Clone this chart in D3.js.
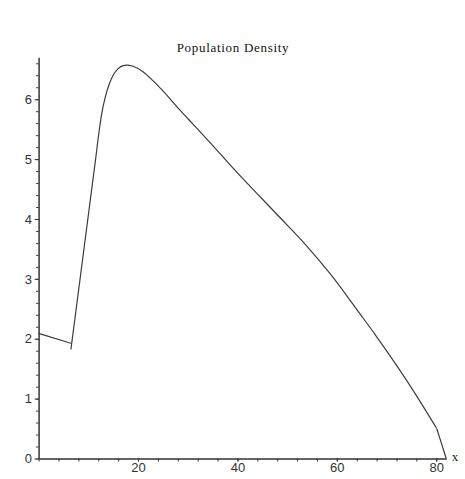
<!DOCTYPE html>
<html>
<head>
<meta charset="utf-8">
<script src="https://cdn.jsdelivr.net/npm/d3@7"></script>
<style>
  html, body { margin: 0; padding: 0; background: #fff; }
  svg { display: block; }
</style>
</head>
<body>
<script>
// ---- data ----
// first (left) piece of the density curve
const xLeft = [0, 6.65];
const yLeft = [2.09, 1.92];
// second (main) piece of the density curve
const xMain = [6.5, 11.5, 12.15, 12.7, 13.4, 14.2, 15, 16, 17, 17.7, 19, 21, 23, 25.1, 28.3, 31.1, 35, 40, 44, 48.6, 53.6, 58.6, 64.7, 67.7, 71.4, 75.4, 80.1];
const yMain = [1.82, 5.02, 5.45, 5.76, 6.03, 6.25, 6.40, 6.51, 6.56, 6.57, 6.55, 6.46, 6.31, 6.13, 5.83, 5.58, 5.23, 4.77, 4.42, 4.02, 3.58, 3.09, 2.41, 2.07, 1.63, 1.13, 0.50];
// last straight piece down to zero
const xTail = [80.1, 82];
const yTail = [0.50, 0.0];
const xTickLabels = [20, 40, 60, 80];
const yTickLabels = [0, 1, 2, 3, 4, 5, 6];
const xMinorTicks = d3.range(0, 81, 4);
const yMinorTicks = d3.range(0, 6.61, 0.2);
const titleText = "Population Density";
const xAxisLabel = "x";

const W = 465, H = 479;
const svg = d3.select("body").append("svg").attr("width", W).attr("height", H);

const x = d3.scaleLinear().domain([0, 82]).range([38.6, 446.2]);
const y = d3.scaleLinear().domain([0, 6.7]).range([458.5, 57.3]);

const font = "'Liberation Sans', Arial, sans-serif";

// x axis
const gx = svg.append("g").attr("transform", `translate(0,${y(0)})`);
gx.call(d3.axisBottom(x).tickValues(xMinorTicks).tickFormat("").tickSize(3).tickSizeOuter(0));
gx.append("g").call(d3.axisBottom(x).tickValues(xTickLabels).tickFormat(d3.format("d")).tickSize(3).tickPadding(1).tickSizeOuter(0));

// y axis
const gy = svg.append("g").attr("transform", `translate(${x(0)},0)`);
gy.call(d3.axisLeft(y).tickValues(yMinorTicks).tickFormat("").tickSize(2.5).tickSizeOuter(0));
gy.append("g").call(d3.axisLeft(y).tickValues(yTickLabels).tickFormat(d3.format("d")).tickSize(4).tickPadding(2.5).tickSizeOuter(0));

svg.selectAll(".domain").attr("stroke", "#333").attr("stroke-width", 1);
svg.selectAll(".tick line").attr("stroke", "#333").attr("stroke-width", 1);
svg.selectAll(".tick text")
  .attr("font-family", font).attr("font-size", 13).attr("fill", "#333");

// curve
const line = d3.line().x(d => x(d[0])).y(d => y(d[1]));
function piece(xs, ys, curve) {
  svg.append("path")
    .datum(xs.map((v, i) => [v, ys[i]]))
    .attr("fill", "none").attr("stroke", "#3c3c3c").attr("stroke-width", 1.2)
    .attr("stroke-linejoin", "round")
    .attr("d", line.curve(curve));
}
piece(xLeft, yLeft, d3.curveLinear);
piece(xMain, yMain, d3.curveMonotoneX);
piece(xTail, yTail, d3.curveLinear);

// title
svg.append("text")
  .attr("x", 233).attr("y", 52)
  .attr("text-anchor", "middle")
  .attr("font-family", "'Liberation Serif', 'Times New Roman', serif")
  .attr("font-size", 13).attr("letter-spacing", 0.7).attr("fill", "#111")
  .text(titleText);

// x axis label
svg.append("text")
  .attr("x", 455).attr("y", 461)
  .attr("text-anchor", "middle")
  .attr("font-family", "'Liberation Serif', 'Times New Roman', serif")
  .attr("font-size", 13).attr("fill", "#222")
  .text(xAxisLabel);
</script>
</body>
</html>
